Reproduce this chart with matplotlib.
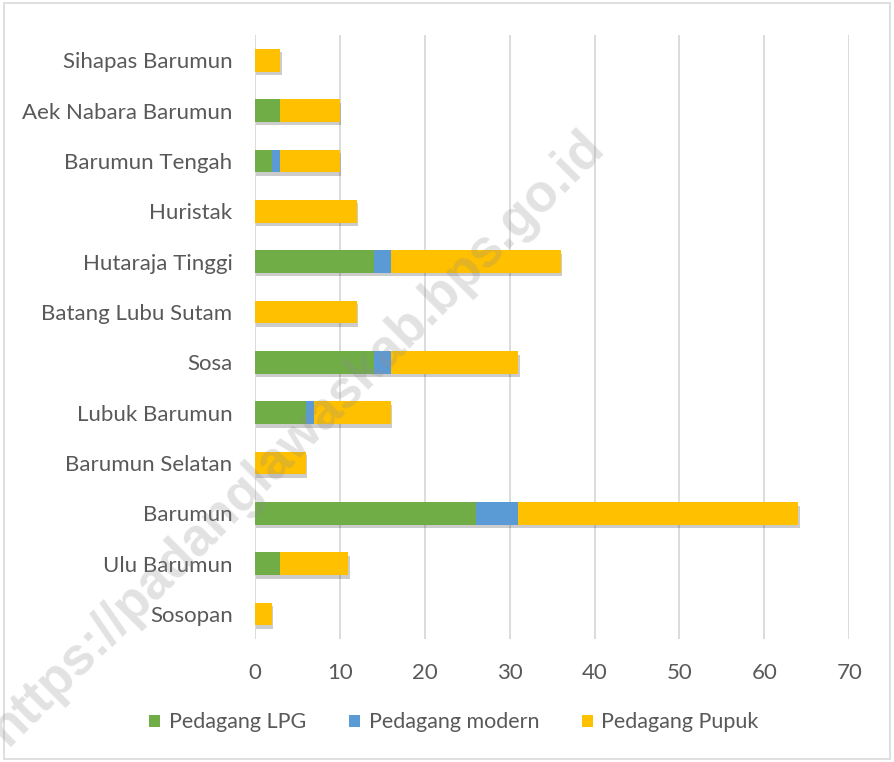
import matplotlib.pyplot as plt
import matplotlib.patheffects as pe
from matplotlib.patches import Rectangle, Patch
import numpy as np

plt.rcParams['font.family'] = ['Lato', 'DejaVu Sans']

kecamatan = ["Sosopan", "Ulu Barumun", "Barumun", "Barumun Selatan", "Lubuk Barumun",
             "Sosa", "Batang Lubu Sutam", "Hutaraja Tinggi", "Huristak",
             "Barumun Tengah", "Aek Nabara Barumun", "Sihapas Barumun"]
pedagang_lpg = [0, 3, 26, 0, 6, 14, 0, 14, 0, 2, 3, 0]
pedagang_modern = [0, 0, 5, 0, 1, 2, 0, 2, 0, 1, 0, 0]
pedagang_pupuk = [2, 8, 33, 6, 9, 15, 12, 20, 12, 7, 7, 3]

series = [("Pedagang LPG", pedagang_lpg, "#70AD47"),
          ("Pedagang modern", pedagang_modern, "#5B9BD5"),
          ("Pedagang Pupuk", pedagang_pupuk, "#FFC000")]

fig = plt.figure(figsize=(8.94, 7.62), dpi=100)
ax = fig.add_axes([0.285, 0.161, 0.665, 0.793])

y = np.arange(len(kecamatan))
left = np.zeros(len(kecamatan))
shadow = [pe.SimplePatchShadow(offset=(1.2, -2.5), shadow_rgbFace="#000000", alpha=0.2), pe.Normal()]
handles = []
for name, vals, col in series:
    vals = np.array(vals, dtype=float)
    ax.barh(y, vals, left=left, height=0.45, color=col, zorder=3, path_effects=shadow)
    left += vals
    handles.append(Patch(facecolor=col, label=name))

ax.set_xlim(0, 70)
ax.set_ylim(-0.5, len(kecamatan) - 0.5)
ax.set_xticks(np.arange(0, 71, 10))
ax.set_yticks(y)
ax.set_yticklabels(kecamatan)
ax.grid(axis="x", color="#d9d9d9", linewidth=1.3, zorder=0)
for s in ax.spines.values():
    s.set_visible(False)
ax.tick_params(axis="both", length=0, labelsize=16, colors="#595959")
ax.tick_params(axis="x", pad=17)
ax.tick_params(axis="y", pad=16)

leg = fig.legend(handles=handles, loc="center", bbox_to_anchor=(0.508, 0.052), ncol=3,
                 frameon=False, fontsize=15.5, handlelength=0.5, handleheight=0.5,
                 columnspacing=2.0, handletextpad=0.4)
for t in leg.get_texts():
    t.set_color("#595959")

# watermark
fig.text(0.332, 0.425, "https://padanglawaskab.bps.go.id", fontsize=38, rotation=45,
         color="#8c8c8c", alpha=0.25, ha="center", va="center", fontweight="bold",
         family=["Liberation Sans", "DejaVu Sans"], zorder=10)

fig.patches.append(Rectangle((0.004, 0.004), 0.992, 0.992, transform=fig.transFigure,
                             fill=False, edgecolor="#d9d9d9", linewidth=1.2))

fig.savefig("out.png", dpi=100)
